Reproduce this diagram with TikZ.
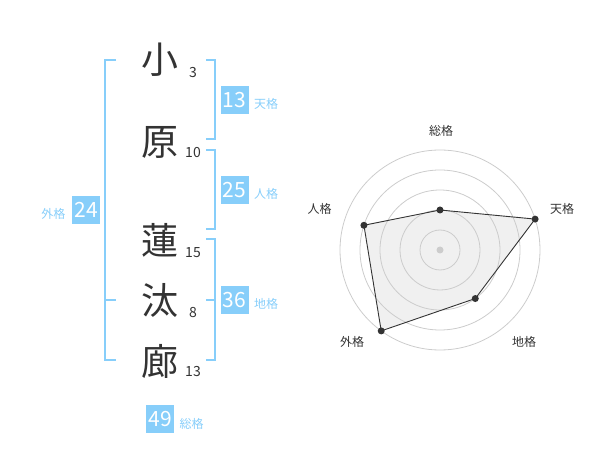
\documentclass[tikz,border=0pt]{standalone}
\usepackage{fontspec}
\setmainfont{Noto Sans CJK JP}
\definecolor{sky}{HTML}{87CEFA}
\definecolor{ink}{HTML}{333333}
\definecolor{gridc}{HTML}{CCCCCC}
\definecolor{areafill}{HTML}{F0F0F0}
\begin{document}
\begin{tikzpicture}[x=1pt,y=-1pt,
  kanji/.style={font=\fontsize{37}{37}\selectfont, text=ink, inner sep=0pt},
  strokes/.style={font=\fontsize{14}{14}\selectfont, text=ink, inner sep=0pt},
  numbox/.style={fill=sky, text=white, minimum width=28pt, minimum height=28pt, inner sep=0pt, font=\fontsize{21}{21}\selectfont},
  kaku/.style={text=sky, font=\fontsize{12}{12}\selectfont, inner sep=0pt},
  bracket/.style={draw=sky, line width=2pt},
  ring/.style={draw=gridc, line width=0.8pt},
  axislabel/.style={text=ink, font=\fontsize{12}{12}\selectfont, inner sep=0pt},
  dot/.style={circle, fill=ink, inner sep=0pt, minimum size=7pt},
]
\useasboundingbox (0,0) rectangle (600,470);
% characters
\node[kanji] (c1) at (160,60) {小};
\node[kanji] (c2) at (160,142) {原};
\node[kanji] (c3) at (160,240) {蓮};
\node[kanji] (c4) at (160,300) {汰};
\node[kanji] (c5) at (160,361) {廊};
\node[strokes] (s1) at (193,73) {3};
\node[strokes] (s2) at (193,153) {10};
\node[strokes] (s3) at (193,252.5) {15};
\node[strokes] (s4) at (193,313) {8};
\node[strokes] (s5) at (193,372) {13};
% brackets
\draw[bracket] (116,60) -- (105,60) -- (105,360) -- (116,360);
\draw[bracket] (105,300) -- (116,300);
\draw[bracket] (206,60) -- (215,60) -- (215,139.5) -- (206,139.5);
\draw[bracket] (206,150) -- (215,150) -- (215,229.5) -- (206,229.5);
\draw[bracket] (206,239.5) -- (215,239.5) -- (215,360) -- (206,360);
\draw[bracket] (206,300) -- (215,300);
% boxes
\node[numbox] (b1) at (234.5,100) {13};
\node[kaku] (k1) at (266,104) {天格};
\node[numbox] (b2) at (234.5,190) {25};
\node[kaku] (k2) at (266,194) {人格};
\node[numbox] (b3) at (234.5,300) {36};
\node[kaku] (k3) at (266,304) {地格};
\node[numbox] (b4) at (86,210) {24};
\node[kaku] (k4) at (53.5,214) {外格};
\node[numbox] (b5) at (160,419) {49};
\node[kaku] (k5) at (191.5,423.5) {総格};
% radar (y axis points down, so angles are negated)
\coordinate (ctr) at (440,250);
\path (ctr) ++(-90:40) coordinate (p1);
\path (ctr) ++(-18:100) coordinate (p2);
\path (ctr) ++(54:60) coordinate (p3);
\path (ctr) ++(126:100) coordinate (p4);
\path (ctr) ++(-162:80) coordinate (p5);
\fill[areafill] (p1) -- (p2) -- (p3) -- (p4) -- (p5) -- cycle;
\foreach \r in {20,40,60,80,100} \draw[ring] (ctr) circle[radius=\r];
\fill[gridc] (ctr) circle[radius=3.5];
\draw[ink, line width=0.9pt] (p1) -- (p2) -- (p3) -- (p4) -- (p5) -- cycle;
\foreach \p in {p1,p2,p3,p4,p5} \node[dot] (d\p) at (\p) {};
\node[axislabel] (a1) at (441,130.5) {総格};
\node[axislabel] (a2) at (562,208.5) {天格};
\node[axislabel] (a3) at (524,341.5) {地格};
\node[axislabel] (a4) at (352,341.5) {外格};
\node[axislabel] (a5) at (319.5,208.5) {人格};
\end{tikzpicture}
\end{document}
